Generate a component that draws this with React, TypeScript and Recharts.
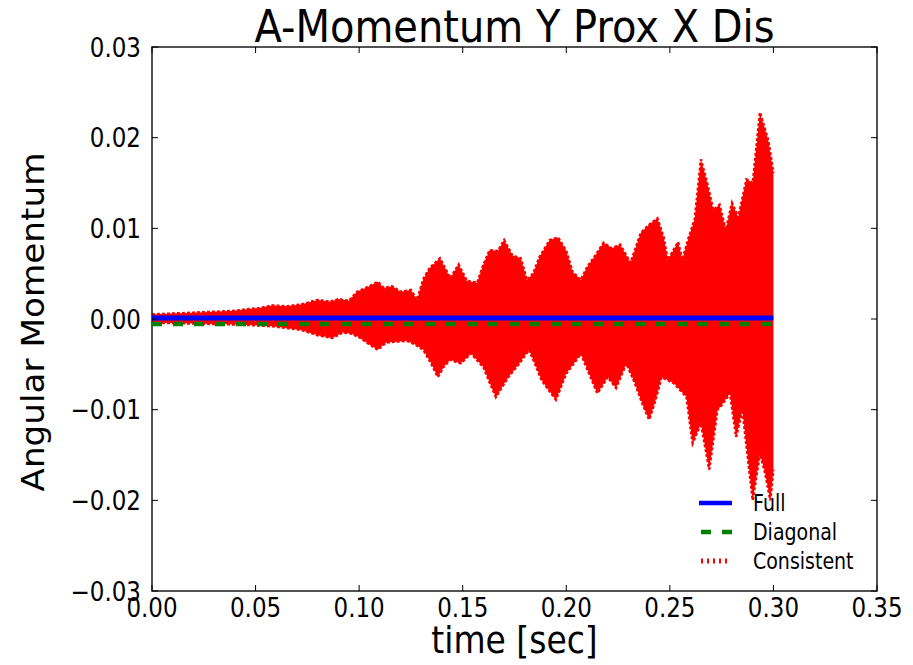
import React from "react";
import {
  ComposedChart,
  Area,
  Line,
  XAxis,
  YAxis,
  ReferenceArea,
} from "recharts";

// Upper envelope of the "Consistent" response (time in sec, momentum)
const upperTimes = [
  0.0, 0.01, 0.02, 0.03, 0.04, 0.047, 0.052, 0.058, 0.065, 0.072, 0.08, 0.086,
  0.09, 0.095, 0.099, 0.104, 0.109, 0.112, 0.116, 0.12, 0.125, 0.128, 0.131,
  0.134, 0.139, 0.144, 0.148, 0.152, 0.157, 0.16, 0.163, 0.167, 0.17, 0.174,
  0.178, 0.181, 0.184, 0.187, 0.192, 0.196, 0.2, 0.203, 0.207, 0.21, 0.214,
  0.218, 0.222, 0.226, 0.231, 0.236, 0.24, 0.244, 0.247, 0.249, 0.254, 0.256,
  0.259, 0.262, 0.265, 0.268, 0.271, 0.274, 0.277, 0.28, 0.283, 0.287, 0.29,
  0.2935, 0.2975, 0.3,
];
const upperValues = [
  0.0005, 0.0006, 0.0007, 0.0008, 0.0009, 0.0011, 0.0012, 0.0015, 0.0014,
  0.0016, 0.0021, 0.0019, 0.0022, 0.002, 0.003, 0.0035, 0.0041, 0.0034,
  0.0036, 0.003, 0.0032, 0.0021, 0.0044, 0.0056, 0.0067, 0.0045, 0.006,
  0.0042, 0.004, 0.006, 0.0076, 0.0075, 0.0087, 0.007, 0.0067, 0.0043, 0.005,
  0.0068, 0.0087, 0.009, 0.0075, 0.0052, 0.0043, 0.0057, 0.007, 0.0084,
  0.0078, 0.0082, 0.0062, 0.0095, 0.0104, 0.0111, 0.009, 0.0065, 0.0085,
  0.0065, 0.0089, 0.011, 0.0176, 0.015, 0.012, 0.0126, 0.0098, 0.0128, 0.0112,
  0.0154, 0.015, 0.0228, 0.0197, 0.0161,
];

// Lower envelope of the "Consistent" response
const lowerTimes = [
  0.0, 0.02, 0.04, 0.05, 0.058, 0.065, 0.072, 0.08, 0.087, 0.092, 0.096, 0.1,
  0.105, 0.109, 0.113, 0.118, 0.123, 0.127, 0.131, 0.135, 0.138, 0.141, 0.144,
  0.149, 0.154, 0.16, 0.163, 0.166, 0.169, 0.172, 0.177, 0.182, 0.185, 0.188,
  0.192, 0.195, 0.2, 0.204, 0.207, 0.211, 0.215, 0.22, 0.224, 0.229, 0.233,
  0.237, 0.24, 0.243, 0.246, 0.252, 0.258, 0.261, 0.265, 0.269, 0.273, 0.275,
  0.279, 0.282, 0.285, 0.287, 0.29, 0.2935, 0.296, 0.2985, 0.3,
];
const lowerValues = [
  -0.0004, -0.0005, -0.0006, -0.0007, -0.0008, -0.001, -0.0012, -0.0018,
  -0.0021, -0.0015, -0.0016, -0.002, -0.0028, -0.0034, -0.0026, -0.0025,
  -0.0024, -0.0028, -0.0034, -0.005, -0.0064, -0.0052, -0.0045, -0.0049,
  -0.0038, -0.0053, -0.007, -0.0086, -0.0075, -0.0064, -0.005, -0.0034,
  -0.005, -0.0067, -0.008, -0.0089, -0.006, -0.0048, -0.0038, -0.006,
  -0.0082, -0.0064, -0.0076, -0.0049, -0.007, -0.0095, -0.0111, -0.009,
  -0.0064, -0.0071, -0.0086, -0.0137, -0.0115, -0.0166, -0.01, -0.0095,
  -0.0082, -0.013, -0.01, -0.014, -0.02, -0.0148, -0.017, -0.02, -0.0166,
];

// "Full" and "Diagonal" responses stay flat over the run
const flatTimes = [0.0, 0.3];
const fullValues = [0.0001, 0.0001];
const diagonalValues = [-0.00055, -0.00055];

const xTicks = [0, 0.05, 0.1, 0.15, 0.2, 0.25, 0.3, 0.35];
const yTicks = [-0.03, -0.02, -0.01, 0, 0.01, 0.02, 0.03];

const seriesNames = ["Full", "Diagonal", "Consistent"];

const upperData = upperTimes.map((t, i) => ({ t, v: upperValues[i] }));
const lowerData = lowerTimes.map((t, i) => ({ t, v: lowerValues[i] }));
const fullData = flatTimes.map((t, i) => ({ t, v: fullValues[i] }));
const diagonalData = flatTimes.map((t, i) => ({ t, v: diagonalValues[i] }));

const W = 913;
const H = 665;
const PLOT = { left: 152, top: 47, right: 877, bottom: 591 };
const FONT = "'DejaVu Sans', 'Noto Sans', sans-serif";
const TICK_LEN = 6;
const STRETCH = 1.17; // glyphs are drawn slightly taller than wide

const fmt = (v: number) => {
  const s = Math.abs(v).toFixed(2);
  return v < -1e-9 ? "\u2212" + s : s;
};

// Text anchored at (x, y) with a vertical stretch applied around that point
const TallText = ({
  x,
  y,
  size,
  anchor = "start",
  dy,
  rotate = 0,
  stretch = STRETCH,
  children,
}: any) => (
  <text
    x={0}
    y={0}
    dy={dy}
    transform={`translate(${x}, ${y}) scale(1, ${stretch}) rotate(${rotate})`}
    textAnchor={anchor}
    fontFamily={FONT}
    fontSize={size}
    fill="#000"
  >
    {children}
  </text>
);

const XTick = (props: any) => {
  const { x, payload } = props;
  return (
    <g>
      <line x1={x} x2={x} y1={PLOT.bottom} y2={PLOT.bottom - TICK_LEN} stroke="#000" strokeWidth={1} />
      <line x1={x} x2={x} y1={PLOT.top} y2={PLOT.top + TICK_LEN} stroke="#000" strokeWidth={1} />
      <TallText x={x} y={617} size={23} anchor="middle">
        {fmt(payload.value)}
      </TallText>
    </g>
  );
};

const YTick = (props: any) => {
  const { y, payload } = props;
  return (
    <g>
      <line x1={PLOT.left} x2={PLOT.left + TICK_LEN} y1={y} y2={y} stroke="#000" strokeWidth={1} />
      <line x1={PLOT.right} x2={PLOT.right - TICK_LEN} y1={y} y2={y} stroke="#000" strokeWidth={1} />
      <TallText x={141} y={y} size={23} anchor="end" dy="0.36em">
        {fmt(payload.value)}
      </TallText>
    </g>
  );
};

const LegendBox = () => {
  const rowH = 29;
  return (
    <svg
      width={200}
      height={3 * rowH + 10}
      style={{ position: "absolute", left: 690, top: 488, overflow: "visible" }}
    >
      {seriesNames.map((name, i) => {
        const cy = 15 + i * rowH;
        let sample: React.ReactNode;
        if (i === 0) {
          sample = <line x1={9} x2={42} y1={cy} y2={cy} stroke="#0000ff" strokeWidth={4.5} />;
        } else if (i === 1) {
          sample = (
            <line x1={11} x2={42} y1={cy} y2={cy} stroke="#008000" strokeWidth={4.5} strokeDasharray="10 11" />
          );
        } else {
          sample = (
            <line x1={11} x2={41} y1={cy} y2={cy} stroke="#ff0000" strokeWidth={5} strokeDasharray="2 4" />
          );
        }
        return (
          <g key={name}>
            {sample}
            <TallText x={63} y={cy} size={19} dy="0.36em">
              {name}
            </TallText>
          </g>
        );
      })}
    </svg>
  );
};

export default function App() {
  return (
    <div style={{ position: "absolute", left: 0, top: 0, width: W, height: H, background: "#fff" }}>
      <ComposedChart
        width={W}
        height={H}
        margin={{ top: PLOT.top, right: W - PLOT.right, bottom: 0, left: 0 }}
      >
        <XAxis
          dataKey="t"
          type="number"
          domain={[0, 0.35]}
          ticks={xTicks}
          height={H - PLOT.bottom}
          axisLine={false}
          tickLine={false}
          tick={<XTick />}
          allowDataOverflow
        />
        <YAxis
          dataKey="v"
          type="number"
          domain={[-0.03, 0.03]}
          ticks={yTicks}
          width={PLOT.left}
          axisLine={false}
          tickLine={false}
          tick={<YTick />}
          allowDataOverflow
        />
        <Area
          data={upperData}
          dataKey="v"
          type="linear"
          baseValue={0}
          fill="#ff0000"
          fillOpacity={1}
          stroke="#ff0000"
          strokeWidth={2.5}
          strokeDasharray="3 2"
          isAnimationActive={false}
          dot={false}
          activeDot={false}
        />
        <Area
          data={lowerData}
          dataKey="v"
          type="linear"
          baseValue={0}
          fill="#ff0000"
          fillOpacity={1}
          stroke="#ff0000"
          strokeWidth={2.5}
          strokeDasharray="3 2"
          isAnimationActive={false}
          dot={false}
          activeDot={false}
        />
        <Line
          data={diagonalData}
          dataKey="v"
          type="linear"
          stroke="#008000"
          strokeWidth={4.5}
          strokeDasharray="10 11"
          dot={false}
          activeDot={false}
          isAnimationActive={false}
        />
        <Line
          data={fullData}
          dataKey="v"
          type="linear"
          stroke="#0000ff"
          strokeWidth={5}
          dot={false}
          activeDot={false}
          isAnimationActive={false}
        />
        <ReferenceArea
          x1={0}
          x2={0.35}
          y1={-0.03}
          y2={0.03}
          fill="none"
          stroke="#1a1a1a"
          strokeWidth={1.5}
          ifOverflow="visible"
        />
        <TallText x={(PLOT.left + PLOT.right) / 2} y={42} size={40} anchor="middle" stretch={1.12}>
          A-Momentum Y Prox X Dis
        </TallText>
        <TallText x={(PLOT.left + PLOT.right) / 2} y={653} size={33} anchor="middle" stretch={1.12}>
          time [sec]
        </TallText>
        <TallText x={44} y={322} size={32} anchor="middle" rotate={-90} stretch={1.07}>
          Angular Momentum
        </TallText>
      </ComposedChart>
      <LegendBox />
    </div>
  );
}
